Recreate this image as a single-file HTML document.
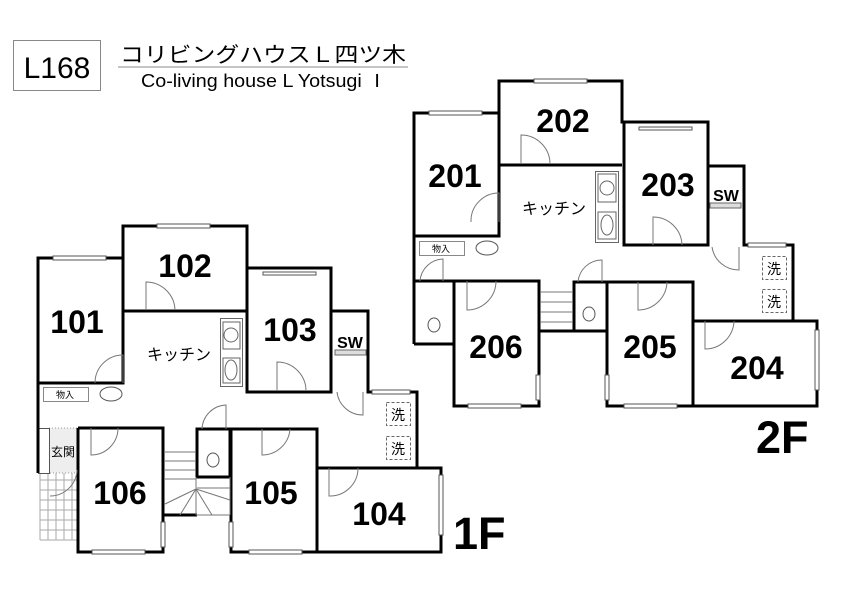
<!DOCTYPE html>
<html><head><meta charset="utf-8"><style>
html,body{margin:0;padding:0;background:#fff;width:842px;height:595px;overflow:hidden}
svg{display:block}
.w{fill:none;stroke:#000;stroke-width:3}
.d{fill:none;stroke:#777;stroke-width:1}
.n{font-family:"Liberation Sans",sans-serif;font-weight:bold;font-size:32px;fill:#000}
.s{font-family:"Liberation Sans",sans-serif;font-weight:bold;font-size:16px;fill:#000}
.f{font-family:"Liberation Sans",sans-serif;font-weight:bold;font-size:45px;fill:#000}
.j{font-family:"Liberation Sans","Noto Sans CJK JP",sans-serif;fill:#000}
.win{fill:#fff;stroke:#555;stroke-width:1}
</style></head><body>
<svg width="842" height="595" viewBox="0 0 842 595" xmlns="http://www.w3.org/2000/svg">
<rect x="13.5" y="40.5" width="87" height="50" fill="#fff" stroke="#888" stroke-width="1"/>
<text x="57" y="78" text-anchor="middle" class="j" font-size="30">L168</text>
<text x="120" y="62" class="j" font-size="21" textLength="286" lengthAdjust="spacingAndGlyphs">コリビングハウスＬ四ツ木</text>
<line x1="118" y1="67" x2="408" y2="67" stroke="#888" stroke-width="1"/>
<text x="141" y="87" class="j" font-size="18" textLength="246" lengthAdjust="spacingAndGlyphs">Co-living house L Yotsugi Ⅰ</text>

<!-- 1F -->
<g>
<rect x="49" y="428" width="28" height="45" fill="#eee" stroke="#999" stroke-dasharray="1 2"/>
<g stroke="#aaa" stroke-width="1">
<line x1="40" y1="473" x2="40" y2="540"/><line x1="48" y1="473" x2="48" y2="540"/><line x1="56" y1="473" x2="56" y2="540"/><line x1="64" y1="473" x2="64" y2="540"/><line x1="72" y1="473" x2="72" y2="540"/>
<line x1="40" y1="480" x2="77" y2="480"/><line x1="40" y1="490" x2="77" y2="490"/><line x1="40" y1="500" x2="77" y2="500"/><line x1="40" y1="510" x2="77" y2="510"/><line x1="40" y1="520" x2="77" y2="520"/><line x1="40" y1="530" x2="77" y2="530"/><line x1="40" y1="540" x2="77" y2="540"/>
</g>
<rect x="38.5" y="428.5" width="11" height="45" fill="#fff" stroke="#555"/>
<text x="51" y="456" class="j" font-size="12">玄関</text>
<path class="w" d="M38 473 V258 H123 V226 H247 V268 H331 V311 H368 V392 H417 V468"/>
<path class="w" d="M123 258 V383 H38"/>
<path class="w" d="M123 311 H247"/>
<path class="w" d="M247 268 V392 H331 V311"/>
<path class="w" d="M78 428 V552 H163 V428 H78"/>
<path class="w" d="M163 445 V515 H197"/>
<path class="w" d="M197 429 H230 V477 H197 Z"/>
<path class="w" d="M231 429 H317 V552 H231 Z"/>
<path class="w" d="M317 468 H441 V552 H317"/>
<g stroke="#777" stroke-width="1">
<line x1="165" y1="452" x2="196" y2="452"/><line x1="165" y1="461" x2="196" y2="461"/><line x1="165" y1="470" x2="196" y2="470"/><line x1="165" y1="479" x2="196" y2="479"/>
<line x1="196" y1="477" x2="196" y2="515"/><line x1="197" y1="488" x2="230" y2="488"/>
<line x1="196" y1="489" x2="165" y2="504"/><line x1="196" y1="489" x2="180" y2="515"/><line x1="196" y1="489" x2="196" y2="515"/><line x1="196" y1="489" x2="212" y2="515"/><line x1="196" y1="489" x2="230" y2="500"/>
<line x1="230" y1="477" x2="230" y2="515"/><line x1="196" y1="515" x2="230" y2="515"/>
</g>
<path class="d" d="M95 383 A28 28 0 0 1 123 355 V383"/>
<path class="d" d="M146 310 V282 A29 29 0 0 1 175 310"/>
<path class="d" d="M277 391 V362 A29 29 0 0 1 306 391"/>
<path class="d" d="M337 392 A26 26 0 0 0 363 415 V392"/>
<path class="d" d="M202 429 A25 25 0 0 1 226 405 V429"/>
<path class="d" d="M91 428 V455 A27 27 0 0 0 118 428"/>
<path class="d" d="M262 429 V455 A28 28 0 0 0 290 429"/>
<path class="d" d="M329 468 V496 A28 28 0 0 0 358 468"/>
<path class="d" d="M50 496 A27 27 0 0 0 77 470"/>
<rect class="win" x="53" y="256" width="53" height="4"/>
<rect class="win" x="157" y="224" width="53" height="4"/>
<rect class="win" x="263" y="272" width="53" height="3"/>
<rect class="win" x="372" y="390" width="38" height="4"/>
<rect class="win" x="92" y="550" width="53" height="4"/>
<rect class="win" x="249" y="550" width="53" height="4"/>
<rect class="win" x="161" y="522" width="4" height="25"/>
<rect class="win" x="229" y="522" width="4" height="25"/>
<rect class="win" x="439" y="475" width="4" height="60"/>
<rect x="220.5" y="318.5" width="22" height="68" fill="#fff" stroke="#666"/>
<rect x="223" y="322" width="17" height="27" fill="none" stroke="#666"/>
<rect x="223" y="358" width="17" height="25" fill="none" stroke="#666"/>
<ellipse cx="231" cy="370" rx="6" ry="10" fill="none" stroke="#666"/>
<circle cx="231" cy="335" r="7" fill="none" stroke="#666"/>
<rect x="43.5" y="387.5" width="45" height="14" fill="#fff" stroke="#888"/>
<text x="56" y="398" class="j" font-size="9">物入</text>
<ellipse cx="111" cy="394" rx="11" ry="7" fill="none" stroke="#555"/>
<rect x="335" y="350" width="31" height="5" fill="#ddd" stroke="#666"/>
<ellipse cx="213" cy="460" rx="6" ry="7" fill="none" stroke="#555"/>
<rect x="386.5" y="402.5" width="24" height="23" fill="none" stroke="#666" stroke-dasharray="3 2"/>
<rect x="386.5" y="436.5" width="24" height="23" fill="none" stroke="#666" stroke-dasharray="3 2"/>
<text x="398" y="420" text-anchor="middle" class="j" font-size="14">洗</text>
<text x="398" y="454" text-anchor="middle" class="j" font-size="14">洗</text>
<text x="147" y="360" class="j" font-size="16">キッチン</text>
<text x="350" y="348" text-anchor="middle" class="s">SW</text>
<text x="77" y="333" text-anchor="middle" class="n">101</text>
<text x="185" y="277" text-anchor="middle" class="n">102</text>
<text x="290" y="341" text-anchor="middle" class="n">103</text>
<text x="379" y="525" text-anchor="middle" class="n">104</text>
<text x="271" y="504" text-anchor="middle" class="n">105</text>
<text x="120" y="504" text-anchor="middle" class="n">106</text>
<text x="453" y="549" class="f">1F</text>
</g>

<!-- 2F -->
<g>
<path class="w" d="M414 344 V113 H499 V81 H622 V122 H708 V166 H744 V245 H793 V321"/>
<path class="w" d="M499 113 V236 H414"/>
<path class="w" d="M499 165 H622"/>
<path class="w" d="M624 122 V245 H708 V166"/>
<path class="w" d="M414 281 H454 V344 H414"/>
<path class="w" d="M454 281 H539 V406 H454 Z"/>
<path class="w" d="M539 331 H574 V282 H607 V331 H574"/>
<path class="w" d="M607 282 H693 V406 H607 Z"/>
<path class="w" d="M693 321 H817 V406 H693"/>
<g stroke="#777" stroke-width="1">
<line x1="540" y1="292" x2="573" y2="292"/><line x1="540" y1="302" x2="573" y2="302"/><line x1="540" y1="312" x2="573" y2="312"/><line x1="540" y1="322" x2="573" y2="322"/>
</g>
<path class="d" d="M471 222 A28 28 0 0 1 499 193 V222"/>
<path class="d" d="M521 164 V135 A29 29 0 0 1 550 164"/>
<path class="d" d="M653 245 V217 A29 29 0 0 1 682 245"/>
<path class="d" d="M712 247 A27 27 0 0 0 739 270 V247"/>
<path class="d" d="M420 281 A24 24 0 0 1 443 259 V281"/>
<path class="d" d="M578 282 A24 24 0 0 1 602 260 V282"/>
<path class="d" d="M467 281 V310 A29 29 0 0 0 496 281"/>
<path class="d" d="M638 282 V310 A29 29 0 0 0 667 282"/>
<path class="d" d="M705 321 V349 A29 29 0 0 0 734 321"/>
<rect class="win" x="429" y="111" width="53" height="4"/>
<rect class="win" x="534" y="79" width="53" height="4"/>
<rect class="win" x="639" y="127" width="53" height="3"/>
<rect class="win" x="748" y="243" width="38" height="4"/>
<rect class="win" x="468" y="404" width="53" height="4"/>
<rect class="win" x="624" y="404" width="53" height="4"/>
<rect class="win" x="536" y="375" width="4" height="25"/>
<rect class="win" x="605" y="375" width="4" height="25"/>
<rect class="win" x="815" y="330" width="4" height="60"/>
<rect x="595.5" y="171.5" width="23" height="71" fill="#fff" stroke="#666"/>
<rect x="598" y="174" width="18" height="28" fill="none" stroke="#666"/>
<rect x="598" y="212" width="18" height="27" fill="none" stroke="#666"/>
<ellipse cx="607" cy="225" rx="6" ry="10" fill="none" stroke="#666"/>
<circle cx="607" cy="188" r="7" fill="none" stroke="#666"/>
<rect x="419.5" y="241.5" width="45" height="14" fill="#fff" stroke="#888"/>
<text x="432" y="252" class="j" font-size="9">物入</text>
<ellipse cx="487" cy="248" rx="11" ry="7" fill="none" stroke="#555"/>
<rect x="710" y="203" width="31" height="5" fill="#ddd" stroke="#666"/>
<ellipse cx="434" cy="325" rx="6" ry="7" fill="none" stroke="#555"/>
<ellipse cx="589" cy="314" rx="6" ry="7" fill="none" stroke="#555"/>
<rect x="762.5" y="256.5" width="24" height="23" fill="none" stroke="#666" stroke-dasharray="3 2"/>
<rect x="762.5" y="289.5" width="24" height="23" fill="none" stroke="#666" stroke-dasharray="3 2"/>
<text x="774" y="274" text-anchor="middle" class="j" font-size="14">洗</text>
<text x="774" y="307" text-anchor="middle" class="j" font-size="14">洗</text>
<text x="522" y="214" class="j" font-size="16">キッチン</text>
<text x="726" y="201" text-anchor="middle" class="s">SW</text>
<text x="455" y="187" text-anchor="middle" class="n">201</text>
<text x="563" y="132" text-anchor="middle" class="n">202</text>
<text x="668" y="196" text-anchor="middle" class="n">203</text>
<text x="757" y="379" text-anchor="middle" class="n">204</text>
<text x="650" y="358" text-anchor="middle" class="n">205</text>
<text x="496" y="358" text-anchor="middle" class="n">206</text>
<text x="756" y="453" class="f">2F</text>
</g>
</svg>
</body></html>
